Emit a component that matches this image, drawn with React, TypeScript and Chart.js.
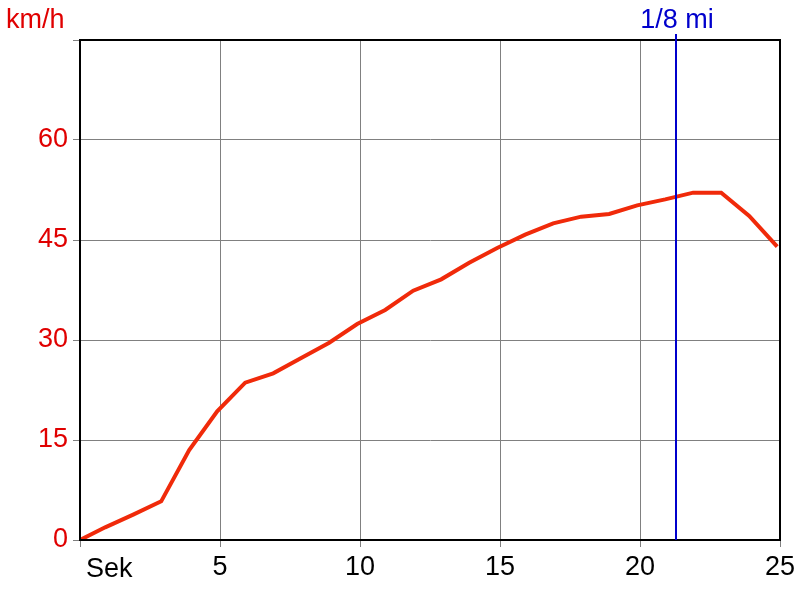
import React, { useEffect, useRef } from "react";
import { Chart, registerables } from "chart.js";

Chart.register(...registerables);

const timeSec = [0, 0.9, 1.9, 2.9, 3.9, 4.9, 5.9, 6.9, 7.9, 8.9, 9.9, 10.9, 11.9, 12.9, 13.9, 14.9, 15.9, 16.9, 17.9, 18.9, 19.9, 20.9, 21.9, 22.9, 23.9, 24.9];
const speedKmh = [0, 1.9, 3.8, 5.8, 13.5, 19.3, 23.6, 25, 27.3, 29.6, 32.4, 34.5, 37.4, 39.1, 41.6, 43.8, 45.8, 47.5, 48.5, 48.9, 50.2, 51.1, 52.1, 52.1, 48.6, 44];
const eighthMileSec = 21.28;
const eighthMileLabel = "1/8 mi";
const yUnit = "km/h";
const xUnit = "Sek";

const FONT = "Liberation Sans, Arial, sans-serif";
const FS = 27;

const overlay = {
  id: "overlay",
  afterDatasetsDraw(chart: any) {
    const { ctx, chartArea, scales } = chart;
    ctx.save();
    ctx.strokeStyle = "#000";
    ctx.lineWidth = 2;
    ctx.strokeRect(chartArea.left, chartArea.top, chartArea.right - chartArea.left, chartArea.bottom - chartArea.top);
    const x = Math.round(scales.x.getPixelForValue(eighthMileSec));
    ctx.strokeStyle = "#0000cc";
    ctx.lineWidth = 2;
    ctx.beginPath();
    ctx.moveTo(x, chartArea.top - 6);
    ctx.lineTo(x, chartArea.bottom);
    ctx.stroke();
    ctx.fillStyle = "#0000cc";
    ctx.font = `${FS}px ${FONT}`;
    ctx.textAlign = "center";
    ctx.textBaseline = "alphabetic";
    ctx.fillText(eighthMileLabel, x + 1, 28);
    ctx.fillStyle = "#e00000";
    ctx.textAlign = "left";
    ctx.fillText(yUnit, 6, 28);
    ctx.fillStyle = "#000";
    ctx.fillText(xUnit, chartArea.left + 6, 577);
    ctx.restore();
  },
};

export default function App() {
  const ref = useRef<HTMLCanvasElement | null>(null);
  useEffect(() => {
    if (!ref.current) return;
    const chart = new Chart(ref.current, {
      type: "line",
      data: {
        datasets: [
          {
            data: timeSec.map((t, i) => ({ x: t, y: speedKmh[i] })),
            borderColor: "#f02a0a",
            borderWidth: 4,
            pointRadius: 0,
            tension: 0,
            fill: false,
          },
        ],
      },
      options: {
        animation: false,
        responsive: false,
        maintainAspectRatio: false,
        layout: { padding: { top: 40, right: 20, left: 0, bottom: 0 } },
        plugins: { legend: { display: false }, tooltip: { enabled: false } },
        scales: {
          x: {
            type: "linear",
            min: 0,
            max: 25,
            afterFit: (s: any) => { s.height = 60; },
            ticks: {
              stepSize: 5,
              color: "#000",
              font: { family: FONT, size: FS },
              padding: 4,
              maxRotation: 0,
              callback: (v: any) => (v === 0 ? "" : String(v)),
            },
            grid: { color: "#808080", lineWidth: 1, tickLength: 7, drawTicks: true },
            border: { color: "#000", width: 2 },
          },
          y: {
            min: 0,
            max: 75,
            afterFit: (s: any) => { s.width = 80; },
            ticks: {
              stepSize: 15,
              color: "#e00000",
              font: { family: FONT, size: FS },
              padding: 5,
              callback: (v: any) => (v === 75 ? "" : String(v)),
            },
            grid: { color: "#808080", lineWidth: 1, tickLength: 7, drawTicks: true },
            border: { color: "#000", width: 2 },
          },
        },
      },
      plugins: [overlay],
    });
    return () => chart.destroy();
  }, []);
  return (
    <canvas
      ref={ref}
      width={800}
      height={600}
      style={{ position: "fixed", left: 0, top: 0, width: 800, height: 600, background: "#fff" }}
    />
  );
}
